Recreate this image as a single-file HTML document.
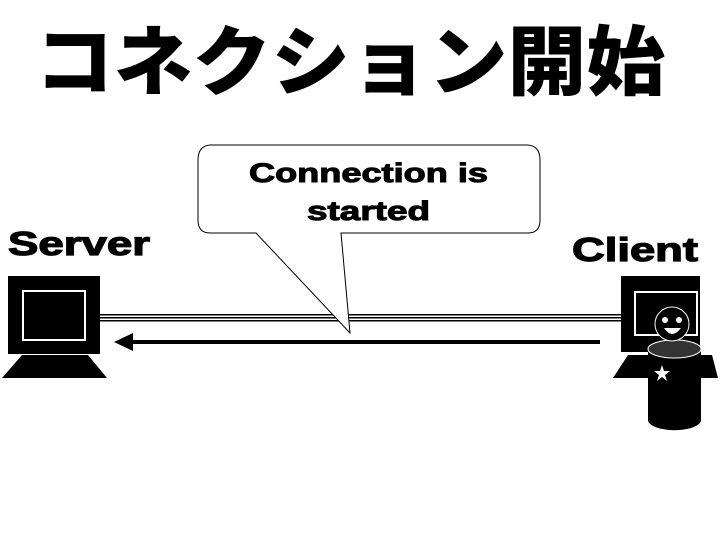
<!DOCTYPE html>
<html><head><meta charset="utf-8"><style>
html,body{margin:0;padding:0;background:#fff;width:720px;height:540px;overflow:hidden}
svg{display:block}
</style></head><body>
<svg width="720" height="540" viewBox="0 0 720 540" xmlns="http://www.w3.org/2000/svg">
<text x="350" y="89" text-anchor="middle" font-family="'Noto Sans CJK JP',sans-serif" font-weight="900" font-size="76" textLength="630" lengthAdjust="spacingAndGlyphs">コネクション開始</text>
<g font-family="'Liberation Sans',sans-serif" font-weight="bold" stroke="#000" stroke-width="1.2">
<text x="8" y="255" font-size="33" textLength="142" lengthAdjust="spacingAndGlyphs">Server</text>
<text x="572" y="261" font-size="33" textLength="126" lengthAdjust="spacingAndGlyphs">Client</text>
</g>
<!-- triple line -->
<rect x="100" y="314" width="522" height="1.5" fill="#000"/>
<rect x="100" y="317" width="522" height="1.5" fill="#000"/>
<rect x="100" y="320" width="522" height="1.5" fill="#000"/>
<!-- arrow -->
<rect x="130" y="340" width="470" height="4" fill="#000"/>
<polygon points="114,342 133,333 133,351" fill="#000"/>
<!-- server -->
<rect x="8" y="276" width="92" height="78" fill="#000"/>
<rect x="23" y="291" width="62" height="49" fill="none" stroke="#fff" stroke-width="2"/>
<polygon points="22,355 88,355 107,378 2,378" fill="#000"/>
<!-- client -->
<rect x="621" y="276" width="79" height="76" fill="#000"/>
<rect x="635" y="292" width="62" height="43" fill="none" stroke="#fff" stroke-width="2"/>
<polygon points="628,355 712,355 718,378 613,378" fill="#000"/>
<path d="M648,349 L648,420 A26,10 0 0 0 701,420 L701,349 Z" fill="#000"/>
<ellipse cx="674.5" cy="349" rx="26.5" ry="9" fill="#333" stroke="#fff" stroke-width="1"/>
<circle cx="672" cy="324" r="17" fill="#000" stroke="#fff" stroke-width="1"/>
<circle cx="665" cy="320" r="3" fill="#fff"/>
<circle cx="679" cy="320" r="3" fill="#fff"/>
<path d="M664,328 Q672,340 681,328" fill="#fff"/>
<polygon points="662,365 664,371 670,371 665,375 667,381 662,377 657,381 659,375 654,371 660,371" fill="#fff"/>
<!-- bubble -->
<path d="M210,145 L528,145 Q540,146 540,160 L540,220 Q540,233 528,233 L341,233 L350,333 L256,233 L210,233 Q198,233 198,220 L198,160 Q198,146 210,145 Z" fill="#fff" stroke="#000" stroke-width="1"/>
<g font-family="'Liberation Sans',sans-serif" font-weight="bold" stroke="#000" stroke-width="1" font-size="27">
<text x="249" y="182" textLength="239" lengthAdjust="spacingAndGlyphs">Connection is</text>
<text x="307" y="220" textLength="123" lengthAdjust="spacingAndGlyphs">started</text>
</g>
</svg>
</body></html>
